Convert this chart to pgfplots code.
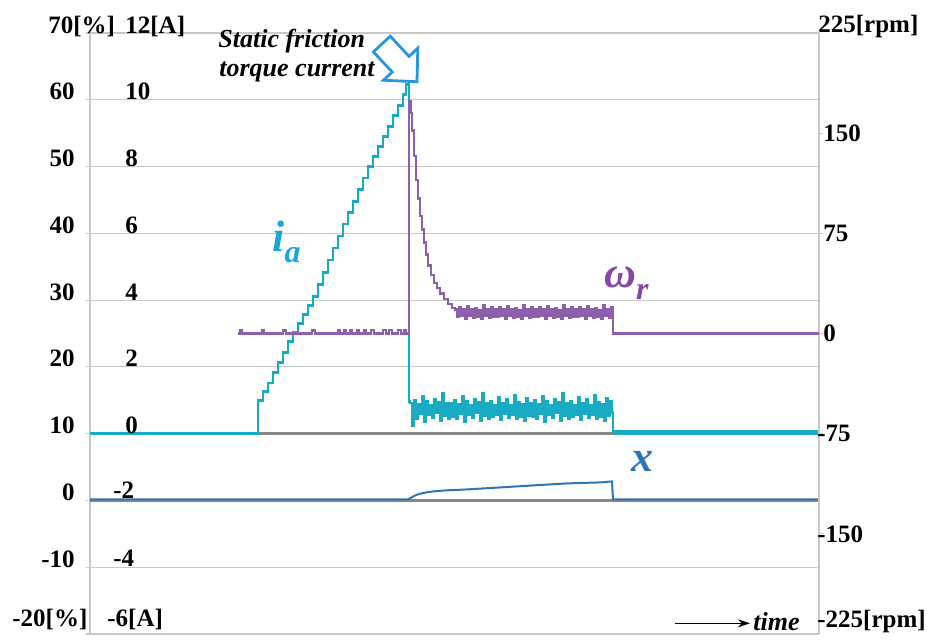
\documentclass[border=0pt]{standalone}
\usepackage{fontspec}
\setmainfont{Liberation Serif}
\usepackage{pgfplots}
\pgfplotsset{compat=1.18}
\usetikzlibrary{arrows.meta}

\definecolor{iacol}{RGB}{24,172,196}
\definecolor{iatext}{RGB}{28,166,222}
\definecolor{wcol}{RGB}{140,96,172}
\definecolor{wtext}{RGB}{132,72,162}
\definecolor{xcol}{RGB}{46,117,182}
\definecolor{gridc}{RGB}{200,200,200}
\definecolor{zeroc}{RGB}{135,135,135}
\definecolor{arrc}{RGB}{38,150,222}

\newcommand\lab{\fontsize{12.5}{14}\selectfont\bfseries}
\newcommand\serlab{\fontsize{22}{24}\selectfont\bfseries\itshape}
\newcommand\sublab{\fontsize{16}{18}\selectfont\bfseries\itshape}
\tikzset{every node/.append style={inner sep=0pt}}

\begin{document}
\begin{tikzpicture}
% main axis: [%] on the left (and [A] = (%-10)/5)
\begin{axis}[name=ax,
    scale only axis, width=364.5pt, height=300.5pt,
    xmin=90, xmax=819, ymin=-20, ymax=70,
    axis x line=none, axis y line*=left,
    y axis line style={-, gridc, line width=0.6pt},
    ytick={-20,-10,...,70}, yticklabels={},
    ymajorgrids, grid style={gridc, line width=0.6pt},
    tick align=outside, major tick length=2pt,
    tick style={gridc, line width=0.6pt},
    extra y ticks={0,10}, extra y tick labels={},
    extra y tick style={grid style={zeroc, line width=1.5pt}},
    clip=false,
]
% i_a
\addplot[const plot, iacol, line width=1.4pt] coordinates {
 (90,10.0)(258,10.0)(258,15.0)(263,16.3)(268,17.6)(273,19.2)(278,20.7)
 (283,22.2)(288,23.8)(293,25.2)(298,26.5)(303,27.8)(308,29.2)(313,30.5)
 (318,32.3)(323,34.1)(328,36.0)(333,37.8)(338,39.6)(343,41.4)(348,43.1)
 (353,44.8)(358,46.6)(363,48.3)(368,50.0)(373,51.5)(378,53.0)(383,54.5)
 (388,56.0)(393,57.6)(398,59.1)(403,60.8)(406,62.3)(409,14.8)
 (410,14.6)(412,11.2)(414,15.0)(416,12.2)(418,14.4)(420,13.0)(422,15.6)(424,11.8)
 (426,14.8)(428,12.8)(430,14.2)(432,12.4)(434,15.2)(436,13.1)(438,14.7)(440,12.0)
 (442,16.0)(444,12.7)(446,14.5)(448,12.3)(450,14.6)(452,12.6)(454,15.0)(456,12.2)
 (458,14.4)(460,13.0)(462,15.6)(464,11.8)(466,14.8)(468,12.8)(470,14.2)(472,12.4)
 (474,15.2)(476,13.1)(478,14.7)(480,12.0)(482,16.0)(484,12.7)(486,14.5)(488,12.3)
 (490,14.9)(492,12.5)(494,14.3)(496,12.9)(498,15.4)(500,12.1)(502,14.6)(504,13.0)
 (506,15.1)(508,12.4)(510,14.2)(512,12.8)(514,15.8)(516,12.2)(518,14.7)(520,12.6)
 (522,14.4)(524,11.9)(526,15.3)(528,12.7)(530,14.6)(532,12.6)(534,15.0)(536,12.2)
 (538,14.4)(540,13.0)(542,15.6)(544,11.8)(546,14.8)(548,12.8)(550,14.2)(552,12.4)
 (554,15.2)(556,13.1)(558,14.7)(560,12.0)(562,16.0)(564,12.7)(566,14.5)(568,12.3)
 (570,14.9)(572,12.5)(574,14.3)(576,12.9)(578,15.4)(580,12.1)(582,14.6)(584,13.0)
 (586,15.1)(588,12.4)(590,14.2)(592,12.8)(594,15.8)(596,12.2)(598,14.7)(600,12.6)
 (602,14.4)(604,11.9)(606,15.3)(608,12.7)(610,14.8)(612,13.2)(613,10.2)
};
\addplot[iacol, line width=2.6pt] coordinates {(613,10.2)(819,10.2)};
% x
\addplot[xcol, line width=1pt] coordinates {
 (90,0.15)(408,0.15)(412,0.5)(416,0.8)(420,1.0)(426,1.2)(433,1.35)(445,1.5)
 (467,1.65)(500,1.95)(533,2.25)(567,2.55)(600,2.7)(612,2.85)(613,0.15)(819,0.15)
};

% left tick labels
\node[anchor=base west, xshift=-21pt] at (axis cs:90,70) {\lab 70[\%]};
\pgfplotsinvokeforeach{60,50,40,30,20,10,0,-10}{
  \node[anchor=base east, xshift=-7.5pt] at (axis cs:90,#1) {\lab #1};
}
\node[anchor=base west, xshift=-39pt, yshift=3.5pt] at (axis cs:90,-20) {\lab -20[\%]};
\node[anchor=base west, xshift=17.5pt] at (axis cs:90,70) {\lab 12[A]};
\node[anchor=base west, xshift=17.5pt] at (axis cs:90,60) {\lab 10};
\node[anchor=base west, xshift=17.5pt] at (axis cs:90,50) {\lab 8};
\node[anchor=base west, xshift=17.5pt] at (axis cs:90,40) {\lab 6};
\node[anchor=base west, xshift=17.5pt] at (axis cs:90,30) {\lab 4};
\node[anchor=base west, xshift=17.5pt] at (axis cs:90,20) {\lab 2};
\node[anchor=base west, xshift=17.5pt] at (axis cs:90,10) {\lab 0};
\node[anchor=base west, xshift=11.5pt, yshift=1pt] at (axis cs:90,0) {\lab -2};
\node[anchor=base west, xshift=11.5pt, yshift=0.5pt] at (axis cs:90,-10) {\lab -4};
\node[anchor=base west, xshift=8.5pt, yshift=3.5pt] at (axis cs:90,-20) {\lab -6[A]};

% series labels
\node[anchor=base west, text=iatext] at (axis cs:272,37.3)
  {\serlab i\raisebox{-5.5pt}{\sublab a}};
\node[anchor=base west, text=wtext] at (axis cs:604,31.9)
  {\serlab ω\raisebox{-6pt}{\sublab r}};
\node[anchor=base west, text=xcol] at (axis cs:631,4.34)
  {\serlab x};

% annotation
\node[anchor=base west] at (axis cs:218,67.8)
  {\fontsize{13}{15}\selectfont\bfseries\itshape Static friction};
\node[anchor=base west] at (axis cs:219,63.5)
  {\fontsize{13}{15}\selectfont\bfseries\itshape torque current};
\coordinate (tip) at (axis cs:417,62.7);

% time arrow
\draw[-{Stealth[length=6pt,width=4pt]}, line width=0.8pt]
  (axis cs:675,-18.4) -- (axis cs:750,-18.4);
\node[anchor=base west] at (axis cs:753,-19.5)
  {\fontsize{13}{15}\selectfont\bfseries\itshape time};
\end{axis}

% right axis: [rpm]
\begin{axis}[
    scale only axis, width=364.5pt, height=300.5pt,
    xmin=90, xmax=819, ymin=-225, ymax=225,
    axis x line=none, axis y line*=right,
    y axis line style={-, gridc, line width=0.6pt},
    ytick={-150,-75,0,75,150}, yticklabels={},
    tick align=outside, major tick length=2pt,
    tick style={gridc, line width=0.6pt},
    clip=false,
]
\addplot[const plot, wcol, line width=1.2pt] coordinates {
 (238,0)(240,2.2)(242,0)(262,2.2)(264,0)(283,2.2)(286,0)(312,2.2)(315,0)
 (338,2.5)(340,0)(344,2.5)(346,0)(350,2.5)(352,0)(357,2.5)(359,0)(364,2.5)
 (366,0)(371,2.5)(374,0)(383,2.5)(386,0)(389,2.5)(392,0)(398,2.5)(401,0)
 (404,2.5)(406,0)
 (409,173.6)(411,165)(412,152)(414,133)(416,115)(418,101)(420,88)(422,78)
 (424,68)(426,59)(428,51)(431,44)(434,38)(437,34)(440,30)(444,26)(448,22)
 (452,19)(455,18.0)(457,12.5)(459,19.8)(461,13.0)(463,18.5)(465,11.2)
 (467,20.6)(469,13.2)(471,17.9)(473,12.0)(475,19.0)(477,12.8)(479,17.8)
 (481,10.8)(483,21.0)(485,13.4)(487,18.3)(489,11.8)(491,19.6)(493,12.6)
 (495,18.0)(497,12.5)(499,19.8)(501,13.0)(503,18.5)(505,11.2)(507,20.6)
 (509,13.2)(511,17.9)(513,12.0)(515,19.0)(517,12.8)(519,17.8)(521,10.8)
 (523,21.0)(525,13.4)(527,18.3)(529,11.8)(531,19.6)(533,12.6)(535,18.0)
 (537,12.5)(539,19.8)(541,13.0)(543,18.5)(545,11.2)(547,20.6)(549,13.2)
 (551,17.9)(553,12.0)(555,19.0)(557,12.8)(559,17.8)(561,10.8)(563,21.0)
 (565,13.4)(567,18.3)(569,11.8)(571,19.6)(573,12.6)(575,18.0)(577,12.5)
 (579,19.8)(581,13.0)(583,18.5)(585,11.2)(587,20.6)(589,13.2)(591,17.9)
 (593,12.0)(595,19.0)(597,12.8)(599,17.8)(601,10.8)(603,21.0)(605,13.4)
 (607,18.3)(609,11.8)(611,19.6)(613,16.0)(613,0)(819,0)
};
\node[anchor=base west, xshift=-0.5pt] at (axis cs:819,225) {\lab 225[rpm]};
\node[anchor=west, xshift=2pt] at (axis cs:819,150) {\lab 150};
\node[anchor=west, xshift=2pt] at (axis cs:819,75) {\lab 75};
\node[anchor=west, xshift=2pt] at (axis cs:819,0) {\lab 0};
\node[anchor=west, xshift=-1pt] at (axis cs:819,-75) {\lab -75};
\node[anchor=west, xshift=-1pt] at (axis cs:819,-150) {\lab -150};
\node[anchor=base west, xshift=-1pt, yshift=3pt] at (axis cs:819,-225) {\lab -225[rpm]};
\end{axis}

% hollow block arrow of the annotation
\begin{scope}[shift={(tip)}, rotate=-47]
\draw[arrc, line width=1.4pt, fill=white, line join=miter]
  (0,0) -- (-12pt,11.75pt) -- (-12pt,5.75pt) -- (-25.8pt,5.75pt)
  -- (-25.8pt,-5.75pt) -- (-12pt,-5.75pt) -- (-12pt,-11.75pt) -- cycle;
\end{scope}

\path (ax.south west) ++(-45pt,-4pt) rectangle ++(464pt,321pt);
\end{tikzpicture}
\end{document}
